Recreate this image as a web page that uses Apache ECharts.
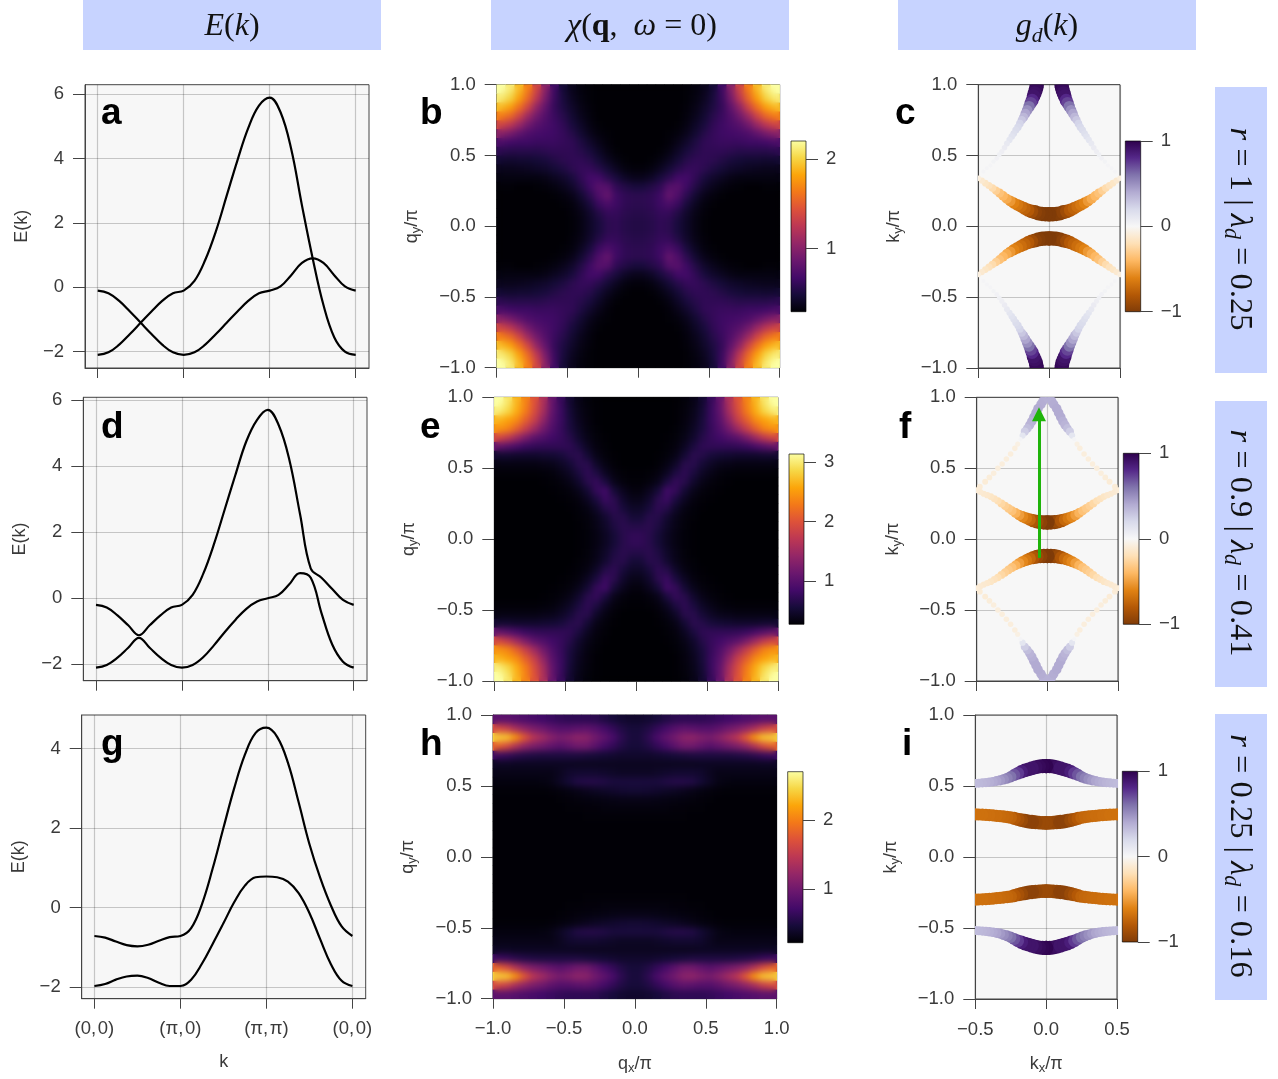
<!DOCTYPE html>
<html><head><meta charset="utf-8">
<style>html,body{margin:0;padding:0;background:#fff}#c{position:absolute;left:0;top:0;width:1278px;height:1079px}.soft{position:absolute;pointer-events:none;backdrop-filter:blur(3px);-webkit-backdrop-filter:blur(3px)}</style>
<script src="https://cdn.jsdelivr.net/npm/echarts@6/dist/echarts.min.js"></script>
</head><body><div id="c"></div>
<script>
// ---------- band structure data (k path: 0=(0,0), 1=(pi,0), 2=(pi,pi), 3=(0,0)) ----------
const kPath=[0,.125,.25,.375,.5,.625,.75,.875,1,1.125,1.25,1.375,1.5,1.625,1.75,1.875,2,2.125,2.25,2.375,2.5,2.625,2.75,2.875,3];
const kTickLabels=['(0,\u200A0)','(π,\u200A0)','(π,\u200Aπ)','(0,\u200A0)'];
const bandA1=[-.1,-.18,-.42,-.75,-1.1,-1.45,-1.78,-2.02,-2.1,-2.02,-1.78,-1.45,-1.1,-.75,-.42,-.18,-.1,.03,.38,.76,.9,.76,.38,.03,-.1];
const bandA2=[-2.1,-2.02,-1.78,-1.45,-1.1,-.75,-.42,-.18,-.1,.2,.85,1.75,2.85,3.95,4.95,5.65,5.9,5.45,4.3,2.55,.9,-.55,-1.55,-2,-2.1];
const bandD1=[-.2,-.28,-.52,-.82,-1.12,-.82,-.52,-.28,-.2,.1,.75,1.65,2.7,3.75,4.75,5.4,5.7,5.25,4.2,2.55,.9,.62,.28,-.05,-.2];
const bandD2=[-2.1,-2.02,-1.8,-1.5,-1.2,-1.5,-1.8,-2.02,-2.1,-2.02,-1.78,-1.42,-1.02,-.65,-.32,-.1,0,.1,.42,.76,.62,-.45,-1.4,-1.92,-2.1];
const bandG1=[-.72,-.76,-.86,-.95,-.98,-.94,-.84,-.75,-.72,-.52,.08,.98,2,3,3.85,4.4,4.53,4.3,3.65,2.65,1.6,.75,.05,-.48,-.72];
const bandG2=[-1.98,-1.93,-1.82,-1.74,-1.72,-1.78,-1.9,-1.98,-1.98,-1.82,-1.42,-.92,-.4,.13,.55,.76,.78,.76,.65,.36,-.14,-.8,-1.43,-1.85,-1.98];

// ---------- susceptibility, one quadrant (rows: qy from 0 to 1, columns: qx from 0 to 1) ----------
const chiB=[
[.54,.56,.60,.58,.50,.42,.35,.31,.30,.30,.30,.30,.30,.30,.30,.30],
[.56,.58,.62,.62,.54,.44,.36,.32,.30,.30,.30,.30,.30,.30,.30,.30],
[.58,.60,.66,.72,.64,.50,.40,.33,.31,.30,.30,.30,.30,.30,.30,.30],
[.58,.60,.66,.84,.74,.58,.46,.37,.33,.31,.30,.30,.30,.30,.30,.30],
[.50,.54,.60,.76,.78,.66,.54,.44,.38,.34,.32,.31,.30,.30,.31,.31],
[.38,.42,.50,.58,.68,.68,.60,.50,.44,.40,.36,.34,.34,.34,.34,.34],
[.32,.34,.40,.48,.56,.62,.62,.58,.52,.48,.44,.42,.40,.39,.38,.38],
[.30,.31,.34,.40,.48,.56,.60,.60,.58,.54,.50,.48,.46,.46,.45,.46],
[.30,.30,.31,.35,.42,.50,.56,.60,.60,.60,.58,.56,.56,.56,.56,.58],
[.30,.30,.30,.32,.37,.44,.52,.60,.62,.64,.64,.64,.66,.66,.68,.72],
[.30,.30,.30,.31,.33,.38,.46,.55,.62,.66,.68,.70,.74,.82,.92,1.0],
[.30,.30,.30,.30,.31,.35,.42,.50,.60,.66,.72,.78,.90,1.08,1.25,1.35],
[.30,.30,.30,.30,.30,.33,.38,.46,.56,.64,.75,.90,1.1,1.35,1.55,1.65],
[.30,.30,.30,.30,.30,.32,.36,.43,.52,.62,.82,1.05,1.35,1.6,1.8,1.9],
[.30,.30,.30,.30,.30,.31,.34,.40,.50,.64,.92,1.25,1.55,1.8,2.0,2.1],
[.30,.30,.30,.30,.30,.31,.33,.38,.48,.66,1.0,1.35,1.65,1.9,2.1,2.2]];
const chiE=[
[.74,.68,.56,.44,.36,.31,.29,.28,.28,.28,.28,.28,.28,.28,.28,.28],
[.66,.70,.62,.48,.38,.32,.29,.28,.28,.28,.28,.28,.28,.28,.28,.28],
[.56,.68,.66,.52,.40,.33,.30,.28,.28,.28,.28,.28,.28,.28,.28,.28],
[.48,.58,.72,.66,.48,.36,.31,.29,.28,.28,.28,.28,.28,.28,.28,.28],
[.40,.50,.70,.80,.60,.44,.34,.30,.29,.28,.28,.28,.28,.28,.28,.28],
[.34,.42,.56,.84,.76,.54,.40,.33,.30,.29,.28,.28,.28,.28,.28,.28],
[.30,.33,.40,.60,.76,.68,.50,.38,.33,.30,.29,.28,.28,.28,.28,.28],
[.29,.30,.34,.44,.62,.72,.60,.46,.38,.33,.31,.30,.30,.30,.30,.30],
[.28,.28,.30,.36,.48,.68,.68,.55,.46,.40,.38,.36,.36,.36,.36,.36],
[.28,.28,.29,.32,.38,.54,.70,.66,.58,.54,.52,.50,.50,.50,.52,.52],
[.28,.28,.28,.30,.34,.44,.60,.72,.74,.74,.74,.76,.80,.90,1.0,1.1],
[.28,.28,.28,.29,.32,.38,.50,.66,.78,.85,.95,1.05,1.25,1.5,1.75,1.9],
[.28,.28,.28,.28,.30,.35,.45,.60,.78,.95,1.2,1.5,1.8,2.1,2.35,2.45],
[.28,.28,.28,.28,.29,.34,.42,.58,.8,1.02,1.4,1.8,2.1,2.4,2.55,2.65],
[.28,.28,.28,.28,.29,.33,.40,.55,.8,1.08,1.55,1.95,2.3,2.6,2.85,3.0],
[.28,.28,.28,.28,.29,.32,.38,.52,.78,1.1,1.6,2.0,2.35,2.65,2.95,3.13]];
const chiH=[
[.24,.24,.24,.24,.24,.24,.24,.24,.24,.24,.24,.24,.24,.24,.24,.24],
[.24,.24,.24,.24,.24,.24,.24,.24,.24,.24,.24,.24,.24,.24,.24,.24],
[.24,.24,.24,.24,.24,.24,.24,.24,.24,.24,.24,.24,.24,.24,.24,.24],
[.24,.24,.24,.24,.24,.24,.24,.24,.24,.24,.24,.24,.24,.24,.24,.24],
[.25,.25,.25,.25,.25,.25,.24,.24,.24,.24,.24,.24,.24,.24,.24,.24],
[.27,.27,.27,.27,.26,.26,.25,.25,.24,.24,.24,.24,.24,.24,.24,.24],
[.32,.32,.31,.30,.29,.28,.27,.26,.25,.24,.24,.24,.24,.24,.24,.24],
[.45,.44,.42,.40,.38,.35,.32,.29,.27,.26,.25,.25,.25,.25,.25,.25],
[.50,.50,.50,.54,.56,.56,.54,.46,.38,.31,.29,.28,.28,.28,.28,.28],
[.38,.38,.40,.42,.44,.44,.44,.42,.36,.32,.32,.32,.32,.32,.32,.32],
[.36,.36,.36,.36,.36,.36,.36,.37,.37,.37,.37,.37,.37,.37,.38,.38],
[.42,.42,.44,.46,.48,.50,.52,.52,.52,.52,.52,.54,.56,.60,.66,.70],
[.48,.54,.64,.74,.88,1.0,1.0,.92,.86,.92,1.0,1.08,1.2,1.4,1.65,1.8],
[.50,.60,.76,.90,1.02,1.15,1.18,1.1,1.05,1.15,1.3,1.45,1.75,2.1,2.35,2.4],
[.48,.54,.64,.74,.84,.90,.88,.84,.84,.90,1.0,1.08,1.2,1.35,1.55,1.65],
[.42,.44,.48,.54,.60,.62,.62,.62,.64,.68,.72,.76,.80,.84,.88,.88]];

// ---------- Fermi surface arcs with d-wave weight g, one quadrant ----------
const kxSteps=[0,.025,.05,.075,.1,.125,.15,.175,.2,.225,.25,.275,.3,.325,.35,.375,.4,.425,.45,.475,.5];
const cInnerKy=[.085,.085,.088,.092,.1,.106,.115,.127,.14,.152,.165,.18,.195,.215,.235,.252,.27,.288,.305,.323,.34];
const cInnerG=[-1,-1,-1,-.98,-.95,-.88,-.8,-.75,-.7,-.65,-.6,-.52,-.45,-.4,-.35,-.28,-.22,-.18,-.15,-.12,-.08];
const cOuterKx=[.087,.09,.095,.102,.11,.12,.13,.142,.155,.168,.18,.193,.207,.22,.235,.25,.264,.28,.298,.315,.334,.352,.37,.393,.415,.44,.464];
const cOuterKy=[1,.98,.96,.94,.92,.89,.87,.845,.82,.795,.77,.75,.725,.70,.68,.655,.634,.61,.585,.555,.528,.505,.48,.457,.43,.41,.386];
const cOuterG=[.98,.97,.95,.92,.9,.8,.72,.6,.5,.42,.35,.28,.22,.2,.18,.16,.14,.12,.1,.08,.06,.05,.04,.03,.02,.02,.02];
const fInnerKy=[.118,.118,.12,.124,.13,.138,.148,.158,.17,.185,.2,.217,.235,.252,.27,.285,.3,.31,.32,.333,.345];
const fInnerG=[-1,-1,-.95,-.9,-.82,-.72,-.65,-.58,-.5,-.42,-.35,-.31,-.28,-.24,-.2,-.17,-.15,-.13,-.12,-.11,-.1];
const fOuterKx=[.015,.03,.045,.066,.08,.095,.11,.125,.142,.16,.175,.19,.21,.23,.26,.29,.32,.35,.38,.41,.44,.478];
const fOuterKy=[1,.975,.95,.92,.89,.86,.83,.805,.78,.758,.73,.705,.67,.64,.6,.565,.53,.5,.465,.435,.405,.37];
const fOuterG=[.38,.38,.39,.4,.4,.4,.38,.36,.32,.25,.12,.02,-.06,-.08,-.08,-.08,-.08,-.08,-.08,-.09,-.1,-.1];
const iOuterKy=[.64,.64,.637,.632,.625,.617,.61,.6,.59,.578,.565,.555,.548,.54,.535,.53,.527,.524,.522,.52,.518];
const iOuterG=[.98,.97,.95,.93,.9,.9,.9,.85,.75,.68,.6,.55,.5,.46,.42,.4,.38,.36,.35,.34,.33];
const iInnerKy=[.24,.24,.242,.245,.247,.25,.255,.26,.265,.272,.278,.282,.285,.288,.29,.293,.295,.297,.298,.299,.3];
const iInnerG=[-.9,-.9,-.9,-.92,-.95,-.95,-.95,-.9,-.85,-.8,-.75,-.73,-.72,-.71,-.7,-.7,-.69,-.69,-.68,-.68,-.68];
const nestingArrow=[[-.059,-.132],[-.059,.88]];

// ---------- colour scales ----------
const inferno=['#000004','#160b39','#420a68','#6a176e','#932667','#bc3754','#dd513a','#f37819','#fca50a','#f6d746','#fcffa4'];
const puor=['#7f3b08','#b35806','#e08214','#fdb863','#fee0b6','#f7f7f7','#d8daeb','#b2abd2','#8073ac','#542788','#2d004b'];

const INK='#3a3a3a',LINE='#444',SANS='"Liberation Sans",Arial,sans-serif',SERIF='"Liberation Serif",serif';
const option={animation:false,backgroundColor:'#fff',grid:[],xAxis:[],yAxis:[],series:[],visualMap:[],graphic:[]};
const minus=v=>String(v).replace('-','−');
const nameRich={a:{fontSize:18,lineHeight:20,verticalAlign:'top',color:INK,fontFamily:SANS},s:{fontSize:13,lineHeight:10,verticalAlign:'bottom',color:INK,fontFamily:SANS}};

function addGrid(r,o={}){option.grid.push(Object.assign({left:r[0],top:r[1],width:r[2]-r[0],height:r[3]-r[1],show:true,backgroundColor:'#f7f7f7',borderColor:LINE,borderWidth:1,containLabel:false},o));return option.grid.length-1;}
function valAxis(g,pos,min,max,ticks,o={}){
  const horizontal=pos==='bottom'||pos==='top';
  return {type:'value',gridIndex:g,position:pos,min,max,scale:true,
    axisLine:{show:true,onZero:false,lineStyle:{color:LINE,width:1}},
    axisTick:{show:true,length:o.tick||12,customValues:ticks,lineStyle:{color:LINE,width:1}},
    axisLabel:{show:o.labels!==false,customValues:ticks,color:INK,fontSize:18.5,fontFamily:SANS,margin:o.margin||21,padding:horizontal?0:[2,0,0,0],hideOverlap:false,showMinLabel:true,showMaxLabel:true,formatter:o.fmt||(v=>minus(v))},
    splitLine:{show:o.split!==false,lineStyle:{color:'rgba(0,0,0,0.2)',width:1.2}},
    name:o.name||'',nameLocation:'middle',nameGap:o.gap||50,nameRotate:horizontal?0:90,
    nameTextStyle:{color:INK,fontSize:18,fontFamily:SANS,rich:nameRich}};
}
function hiddenCat(g,pos,n){return {type:'category',gridIndex:g,position:pos,show:false,data:Array.from({length:n},(_,i)=>i),axisLine:{onZero:false}};}
const f1=v=>minus(Number(v).toFixed(1));

function bandPanel(r,yMin,yMax,yTicks,b1,b2,bottom){
  const g=addGrid(r),kw=(r[2]-r[0]-(369-355.7)-(97.7-85))/3;
  const xMin=-(97.7-85)/kw,xMax=3+(369-355.7)/kw;
  option.xAxis.push(valAxis(g,'bottom',xMin,xMax,[0,1,2,3],{tick:10,labels:bottom,fmt:v=>kTickLabels[v],name:bottom?'k':'',gap:54}));
  option.yAxis.push(valAxis(g,'left',yMin,yMax,yTicks,{name:'E(k)',gap:54}));
  const xi=option.xAxis.length-1,yi=option.yAxis.length-1;
  [b1,b2].forEach(b=>option.series.push({type:'line',xAxisIndex:xi,yAxisIndex:yi,data:kPath.map((k,i)=>[k,b[i]]),smooth:.4,showSymbol:false,symbol:'none',lineStyle:{color:'#000',width:2.2},silent:true}));
}
function colorBar(r,min,max,ticks,colors){
  const g=addGrid(r,{backgroundColor:new echarts.graphic.LinearGradient(0,1,0,0,colors.map((c,i)=>({offset:i/(colors.length-1),color:c}))),borderColor:'rgba(0,0,0,0.65)'});
  option.xAxis.push({type:'value',gridIndex:g,show:false,min:0,max:1,splitLine:{show:false}});
  option.yAxis.push(valAxis(g,'right',min,max,ticks,{split:false,tick:12,margin:20}));
  option.yAxis[option.yAxis.length-1].axisLine.show=false;
}
const soft=[];
function heatPanel(r,quad,min,max,ticks,bar,bottom){
  const g=addGrid(r,{backgroundColor:'#000'}),n=quad.length;
  option.xAxis.push(hiddenCat(g,'bottom',2*n));const xc=option.xAxis.length-1;
  option.yAxis.push(hiddenCat(g,'left',2*n));const yc=option.yAxis.length-1;
  const data=[];
  quad.forEach((row,ry)=>row.forEach((v,rx)=>{[n+rx,n-1-rx].forEach(i=>[n+ry,n-1-ry].forEach(j=>data.push([i,j,v])));}));
  option.xAxis.push(valAxis(g,'bottom',-1,1,[-1,-.5,0,.5,1],{tick:10,labels:bottom,fmt:f1,name:bottom?'{a|q}{s|x}{a|/π}':'',gap:56,split:false}));
  option.yAxis.push(valAxis(g,'left',-1,1,[-1,-.5,0,.5,1],{fmt:f1,name:'{a|q}{s|y}{a|/π}',gap:74,split:false}));
  option.series.push({type:'heatmap',xAxisIndex:xc,yAxisIndex:yc,data,silent:true,progressive:0,itemStyle:{borderWidth:0}});
  option.visualMap.push({show:false,type:'continuous',seriesIndex:option.series.length-1,dimension:2,min,max,inRange:{color:inferno}});
  soft.push(r);
  colorBar(bar,min,max,ticks,inferno);
}
function quadrants(xs,ys,gs){
  const out=[];
  [[1,1],[-1,1],[1,-1],[-1,-1]].forEach(([sx,sy])=>xs.forEach((x,i)=>out.push([sx*x,sy*ys[i],gs[i]])));
  return out;
}
// the dots are clipped to the panel, so they go through a custom series on the same axes
function dot(params,api){
  const c=api.coord([api.value(0),api.value(1)]);
  return {type:'circle',shape:{cx:c[0],cy:c[1],r:(3+11.5*Math.pow(Math.abs(api.value(2)),.6))/2},style:{fill:api.visual('color')}};
}
function fsPanel(r,arcs,bar,bottom,arrow){
  const g=addGrid(r);
  option.xAxis.push(valAxis(g,'bottom',-.5,.5,[-.5,0,.5],{tick:10,labels:bottom,fmt:f1,name:bottom?'{a|k}{s|x}{a|/π}':'',gap:56}));
  option.yAxis.push(valAxis(g,'left',-1,1,[-1,-.5,0,.5,1],{fmt:f1,name:'{a|k}{s|y}{a|/π}',gap:73}));
  const xi=option.xAxis.length-1,yi=option.yAxis.length-1;
  arcs.forEach(a=>{
    option.series.push({type:'custom',xAxisIndex:xi,yAxisIndex:yi,coordinateSystem:'cartesian2d',data:quadrants(a[0],a[1],a[2]),clip:true,silent:true,encode:{x:0,y:1},renderItem:dot,progressive:0});
    option.visualMap.push({show:false,type:'continuous',seriesIndex:option.series.length-1,dimension:2,min:-1,max:1,inRange:{color:puor}});
  });
  if(arrow){option.series[option.series.length-1].markLine={silent:true,animation:false,symbol:['none','triangle'],symbolSize:[14,14],label:{show:false},emphasis:{disabled:true},
    lineStyle:{color:'#1fb40a',width:3,type:'solid'},itemStyle:{color:'#1fb40a'},data:[[{coord:arrow[0]},{coord:arrow[1]}]]};}
  colorBar(bar,-1,1,[-1,0,1],puor);
}

// column 1
bandPanel([85,84.7,369,368],-2.506,6.3,[-2,0,2,4,6],bandA1,bandA2,false);
bandPanel([83.3,397.3,367,680.7],-2.496,6.08,[-2,0,2,4,6],bandD1,bandD2,false);
bandPanel([81.7,715,365.7,998.7],-2.3,4.85,[-2,0,2,4],bandG1,bandG2,true);
// column 2
heatPanel([496.7,84.7,779.7,367.7],chiB,.295,2.2,[1,2],[791,141,806,311.7],false);
heatPanel([494.3,397.3,778,681],chiE,.28,3.13,[1,2,3],[789,454,804,624.3],false);
heatPanel([493,715,776.7,998.7],chiH,.23,2.7,[1,2],[787.7,771.7,803,942.7],true);
// column 3
fsPanel([978.3,84.7,1120,368],[[kxSteps,cInnerKy,cInnerG],[cOuterKx,cOuterKy,cOuterG]],[1125.3,141,1140.7,311.7],false);
fsPanel([976.7,397.3,1118,681],[[fOuterKx,fOuterKy,fOuterG],[kxSteps,fInnerKy,fInnerG]],[1123.3,453.3,1139,624.3],false,nestingArrow);
fsPanel([975.3,715,1117,999],[[kxSteps,iOuterKy,iOuterG],[kxSteps,iInnerKy,iInnerG]],[1122.3,771.3,1137.7,942],true);

// panel letters
[['a',101,132],['b',420,132],['c',895,132],['d',101,446],['e',420,446],['f',899,446],['g',101,763],['h',420,763],['i',902,763]].forEach(([t,x,y])=>
  option.graphic.push({type:'text',z:50,silent:true,style:{text:t,x,y,fill:'#000',font:'bold 37px '+SANS,verticalAlign:'bottom'}}));

// header and side boxes
const mt=(size,o)=>Object.assign({fontFamily:SERIF,fontSize:size,lineHeight:36,verticalAlign:'top',color:'#111'},o);
const richAt=size=>({i:mt(size,{fontStyle:'italic'}),r:mt(size,{}),b:mt(size,{fontWeight:'bold'}),s:mt(size,{fontStyle:'italic',fontSize:size*.68,lineHeight:16,verticalAlign:'bottom'})});
[[83,0,298,50],[491,0,298,50],[898,0,298,50],[1215,87,52,286],[1215,401,52,286],[1215,714,52,286]].forEach(([x,y,w,h])=>
  option.graphic.push({type:'rect',z:-1,silent:true,shape:{x,y,width:w,height:h},style:{fill:'#c7d3ff'}}));
[['{i|E}{r|(}{i|k}{r|)}',232,29],['{i|χ}{r|(}{b|q}{r|,  }{i|ω}{r| = 0)}',642,29],['{i|g}{s|d}{r|(}{i|k}{r|)}',1047,29]].forEach(([t,x,y])=>
  option.graphic.push({type:'text',z:50,silent:true,x,y,style:{text:t,rich:richAt(32),align:'center',verticalAlign:'middle',fill:'#111'}}));
[['{i|r}{r| = 1 | }{i|λ}{s|d}{r| = 0.25}',229],['{i|r}{r| = 0.9 | }{i|λ}{s|d}{r| = 0.41}',543],['{i|r}{r| = 0.25 | }{i|λ}{s|d}{r| = 0.16}',856]].forEach(([t,y])=>
  option.graphic.push({type:'text',z:50,silent:true,x:1238,y,rotation:-Math.PI/2,style:{text:t,rich:richAt(32.5),align:'center',verticalAlign:'middle',fill:'#111'}}));

const chart=echarts.init(document.getElementById('c'),null,{renderer:'canvas',width:1278,height:1079});
chart.setOption(option);
// the heat maps' typed grid cells are softened, as the reference's image is
soft.forEach(r=>{const d=document.createElement('div');d.className='soft';
  d.style.left=(r[0]+1)+'px';d.style.top=(r[1]+1)+'px';d.style.width=(r[2]-r[0]-2)+'px';d.style.height=(r[3]-r[1]-2)+'px';document.body.appendChild(d);});
</script></body></html>
